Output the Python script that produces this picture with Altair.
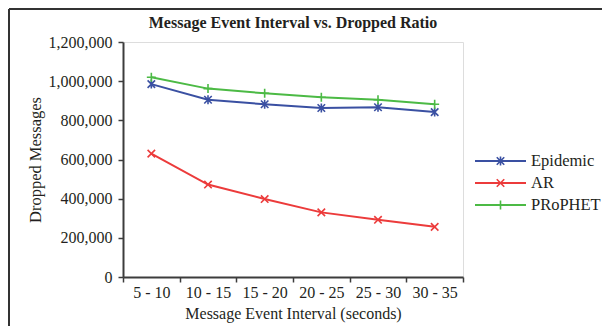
import altair as alt
import pandas as pd

intervals = ["5 - 10", "10 - 15", "15 - 20", "20 - 25", "25 - 30", "30 - 35"]
series = ["Epidemic", "AR", "PRoPHET"]
epidemic = [985000, 905000, 882000, 863000, 867000, 842000]
ar = [630000, 472000, 398000, 330000, 292000, 256000]
prophet = [1020000, 962000, 938000, 918000, 905000, 882000]
colors = ["#3a50a2", "#ec3b3b", "#4cba45"]
shapes = [
    "M-1,-1L1,1M-1,1L1,-1M0,-1.2L0,1.2",
    "M-1,-1L1,1M-1,1L1,-1",
    "M-1.2,0L1.2,0M0,-1.2L0,1.2",
]
title_text = ["Message Event Interval vs. Dropped Ratio"]

rows = []
for name, vals in zip(series, [epidemic, ar, prophet]):
    for iv, v in zip(intervals, vals):
        rows.append({"interval": iv, "series": name, "value": v})
df = pd.DataFrame(rows)
leg = pd.DataFrame({"series": series})
tdf = pd.DataFrame({"t": title_text})

FONT = "Liberation Serif"
TXT = "#231f20"

color = alt.Color("series:N", scale=alt.Scale(domain=series, range=colors), legend=None)
shape = alt.Shape("series:N", scale=alt.Scale(domain=series, range=shapes), legend=None)

xenc = alt.X(
    "interval:N",
    sort=intervals,
    bandPosition=0.5,
    scale=alt.Scale(type="band", paddingInner=0, paddingOuter=0),
    axis=alt.Axis(
        title="Message Event Interval (seconds)",
        labelAngle=0,
        tickBand="extent",
        tickSize=5,
        tickWidth=1.5,
        tickColor="#3c3c3c",
        domainColor="#3c3c3c",
        domainWidth=2,
        labelPadding=2,
        titlePadding=5,
        labelFont=FONT, labelFontSize=16, labelColor=TXT,
        titleFont=FONT, titleFontSize=16, titleFontWeight="normal", titleColor=TXT,
    ),
)
yenc = alt.Y(
    "value:Q",
    scale=alt.Scale(domain=[0, 1200000], nice=False),
    axis=alt.Axis(
        title="Dropped Messages",
        values=[0, 200000, 400000, 600000, 800000, 1000000, 1200000],
        format=",.0f",
        grid=False,
        tickSize=5,
        tickWidth=1.5,
        tickColor="#3c3c3c",
        domainColor="#3c3c3c",
        domainWidth=2,
        labelPadding=6,
        titlePadding=5,
        labelFont=FONT, labelFontSize=16, labelColor=TXT,
        titleFont=FONT, titleFontSize=16.5, titleFontWeight="normal", titleColor=TXT,
    ),
)

base = alt.Chart(df)
lines = base.mark_line(strokeWidth=2).encode(x=xenc, y=yenc, color=color, detail="series:N")
points = base.mark_point(filled=False, strokeWidth=1.6, size=56, opacity=1).encode(
    x=xenc, y=yenc, color=color, shape=shape
)
main = alt.layer(lines, points)

legy = alt.Y("series:N", scale=alt.Scale(domain=series, type="point", range=[108, 174]), axis=None)
lb = alt.Chart(leg)
leg_line = lb.mark_rule(strokeWidth=2).encode(
    x=alt.value(352), x2=alt.value(403), y=legy, color=color
)
leg_pt = lb.mark_point(filled=False, strokeWidth=1.6, size=56, opacity=1).encode(
    x=alt.value(377.5), y=legy, color=color, shape=shape
)
leg_txt = lb.mark_text(align="left", baseline="middle", font=FONT, fontSize=16.5, color=TXT).encode(
    x=alt.value(408), y=legy, text="series:N"
)
legend_layer = alt.layer(leg_line, leg_pt, leg_txt)

frame_top = alt.Chart(leg).mark_rule(color="#333333", strokeWidth=2).encode(
    x=alt.value(-114), x2=alt.value(479), y=alt.value(-33)
)
frame_left = alt.Chart(leg).mark_rule(color="#333333", strokeWidth=2).encode(
    x=alt.value(-114), y=alt.value(-33), y2=alt.value(300)
)
title_mark = alt.Chart(tdf).mark_text(
    font=FONT, fontSize=16, fontWeight="bold", color=TXT, align="center", baseline="alphabetic"
).encode(x=alt.value(170), y=alt.value(-14), text="t:N")

chart = (
    alt.layer(frame_top, frame_left, title_mark, main, legend_layer)
    .resolve_scale(y="independent")
    .properties(
        width=340,
        height=235,
        autosize=alt.AutoSizeParams(type="none"),
        padding={"left": 115, "top": 34, "right": 139, "bottom": 49},
    )
    .configure_view(stroke="#3c3c3c", strokeWidth=2)
    .configure(background="white", font=FONT)
)

chart.save("out.html", embed_options={"renderer": "svg", "actions": False})
